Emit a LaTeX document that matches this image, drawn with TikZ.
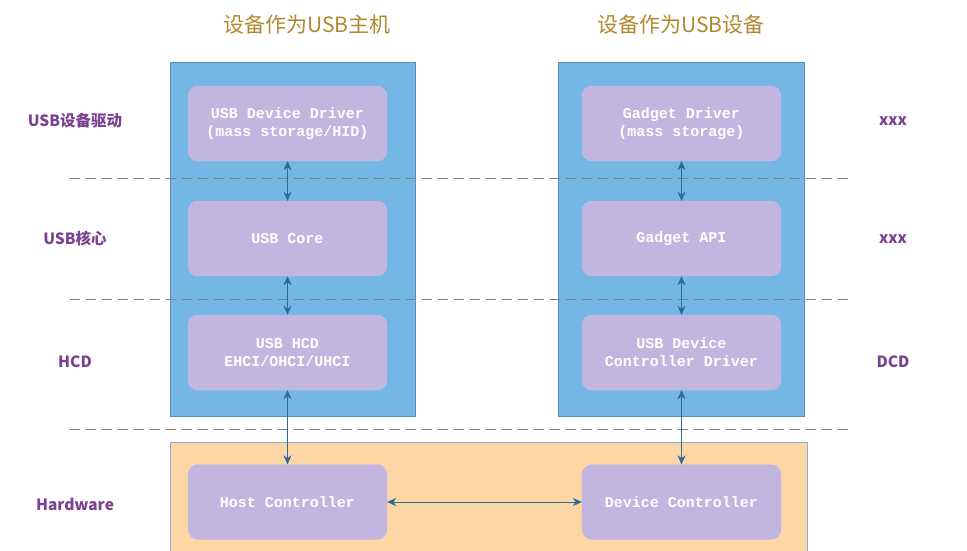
\documentclass[tikz,border=0pt]{standalone}
\usepackage{fontspec}
\setmainfont{Liberation Mono}
\newfontfamily\cjk{Noto Sans CJK SC}
\usetikzlibrary{arrows.meta}

\definecolor{layerblue}{HTML}{74B7E5}
\definecolor{layeredge}{HTML}{4F8FC4}
\definecolor{hwfill}{HTML}{FDD6A6}
\definecolor{modfill}{HTML}{C2B5E0}
\definecolor{linkblue}{HTML}{2C6A98}
\definecolor{tagpurple}{HTML}{7A4190}
\definecolor{titlegold}{HTML}{B3872D}

\tikzset{
  module/.style={rounded corners=10pt, fill=modfill, draw=modfill!90!white,
    minimum width=199pt, minimum height=75pt, align=center,
    text=white, font=\bfseries\fontsize{15}{18}\selectfont},
  layer/.style={fill=layerblue, draw=layeredge},
  tag/.style={text=tagpurple, font=\cjk\bfseries\fontsize{15.5}{18}\selectfont},
  heading/.style={text=titlegold, font=\cjk\fontsize{21}{24}\selectfont},
  link/.style={draw=linkblue, {Stealth[length=9pt,width=8pt]}-{Stealth[length=9pt,width=8pt]}},
  sep/.style={draw=gray, dash pattern=on 10pt off 6pt}
}

\begin{document}
\begin{tikzpicture}[x=1pt, y=-1pt]
  \useasboundingbox (0,0) rectangle (967,550);

  % containers
  \draw[layer] (170,62) rectangle (415,416);
  \draw[layer] (558,62) rectangle (804,416);
  \draw[fill=hwfill, draw=layeredge!70] (170,442) rectangle (807,560);

  % layer separators
  \draw[sep] (70,178) -- (852,178);
  \draw[sep] (70,299) -- (852,299);
  \draw[sep] (70,429) -- (852,429);

  % headings
  \node[heading] (hosttitle) at (307,25) {设备作为USB主机};
  \node[heading] (devtitle) at (681,25) {设备作为USB设备};

  % host side
  \node[module] (hdrv) at (287.5,123.5) {USB Device Driver\\(mass storage/HID)};
  \node[module] (hcore) at (287.5,238.5) {USB Core};
  \node[module] (hhcd) at (287.5,352.5) {USB HCD\\EHCI/OHCI/UHCI};
  \node[module] (hctrl) at (287.5,502) {Host Controller};

  % device side
  \node[module] (gdrv) at (681.5,123.5) {Gadget Driver\\(mass storage)};
  \node[module] (gapi) at (681.5,238.5) {Gadget API};
  \node[module] (udc) at (681.5,352.5) {USB Device\\Controller Driver};
  \node[module] (dctrl) at (681.5,502) {Device Controller};

  % side tags
  \node[tag] (tdrv) at (75,121) {USB设备驱动};
  \node[tag] (tcore) at (75,239) {USB核心};
  \node[tag] (thcd) at (75,362) {HCD};
  \node[tag] (thw) at (75,504) {Hardware};
  \node[tag] (xdrv) at (893,121) {xxx};
  \node[tag] (xcore) at (893,239) {xxx};
  \node[tag] (tdcd) at (893,362) {DCD};

  % links
  \draw[link] (hdrv) -- (hcore);
  \draw[link] (hcore) -- (hhcd);
  \draw[link] (hhcd) -- (hctrl);
  \draw[link] (gdrv) -- (gapi);
  \draw[link] (gapi) -- (udc);
  \draw[link] (udc) -- (dctrl);
  \draw[link] (hctrl) -- (dctrl);
\end{tikzpicture}
\end{document}
